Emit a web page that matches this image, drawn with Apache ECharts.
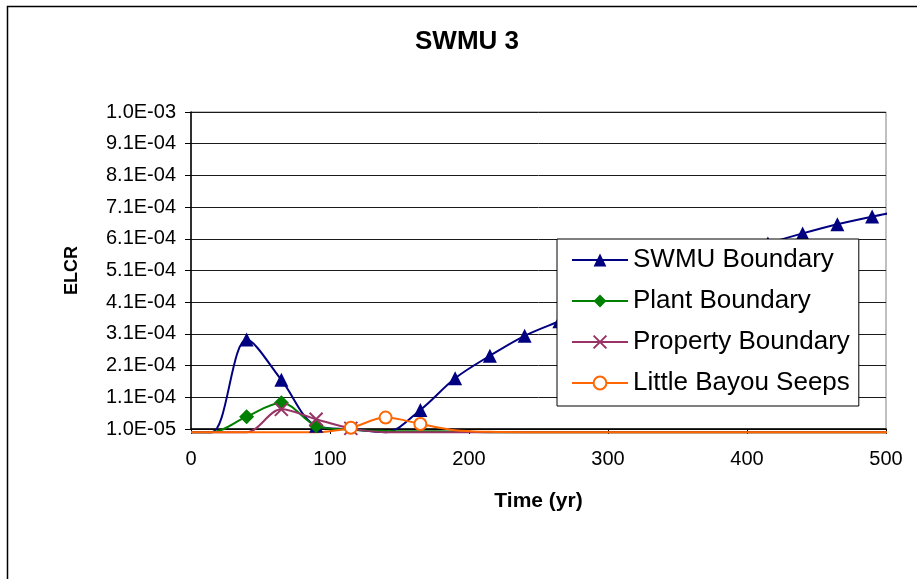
<!DOCTYPE html>
<html><head><meta charset="utf-8">
<script src="https://cdn.jsdelivr.net/npm/echarts@6/dist/echarts.min.js"></script>
<style>html,body{margin:0;padding:0;background:#fff}#c{width:917px;height:579px}</style>
</head><body><div id="c"></div>
<script>
const chartTitle = 'SWMU 3';
const xName = 'Time (yr)';
const yName = 'ELCR';
const seriesNames = ['SWMU Boundary', 'Plant Boundary', 'Property Boundary', 'Little Bayou Seeps'];
const time     = [0, 15, 40, 65, 90, 115, 140, 165, 190, 215, 240, 265, 290, 315, 340, 365, 390, 415, 440, 465, 490, 505];
const swmu     = [0, 0, 2.92e-4, 1.65e-4, 2.0e-5, 9e-6, 0, 7.0e-5, 1.70e-4, 2.41e-4, 3.04e-4, 3.50e-4, 3.95e-4, 4.40e-4, 4.82e-4, 5.20e-4, 5.60e-4, 5.95e-4, 6.27e-4, 6.56e-4, 6.80e-4, 6.93e-4];
const plant    = [0, 0, 4.9e-5, 9.3e-5, 2.0e-5, 8e-6, 4e-6, 3e-6, 2e-6, 0, 0, 0, 0, 0, 0, 0, 0, 0, 0, 0, 0, 0];
const property = [0, 0, 0, 7.2e-5, 4.1e-5, 1.2e-5, 0, 0, 0, 0, 0, 0, 0, 0, 0, 0, 0, 0, 0, 0, 0, 0];
const seeps    = [0, 0, 0, 0, 0, 1.4e-5, 4.6e-5, 2.6e-5, 6e-6, 1e-6, 0, 0, 0, 0, 0, 0, 0, 0, 0, 0, 0, 0];
const yMin = 1e-5, yMax = 1.01e-3, yStep = 1e-4;
const xMin = 0, xMax = 500, xStep = 100;

function sci(v) {
  let e = Math.floor(Math.log10(v) + 1e-9);
  let ms = (v / Math.pow(10, e)).toFixed(1);
  if (ms === '10.0') { ms = '1.0'; e++; }
  return ms + 'E' + (e < 0 ? '-' : '+') + String(Math.abs(e)).padStart(2, '0');
}
function pts(vals) {
  return time.map((t, i) => {
    const v = vals[i];
    const item = { value: [t, v] };
    if (v < yMin || t > xMax) item.symbol = 'none';
    return item;
  });
}
const FONT = 'Liberation Sans, Arial, sans-serif';
const SMOOTH = 0.33;
const chart = echarts.init(document.getElementById('c'), null, { renderer: 'canvas' });
chart.setOption({
  animation: false,
  backgroundColor: '#fff',
  title: { text: chartTitle, left: 415, top: 29, padding: 0,
    textStyle: { fontFamily: FONT, fontSize: 26, fontWeight: 'bold', color: '#000' } },
  grid: { left: 191, right: 31, top: 112, bottom: 150, show: true, borderColor: '#808080', borderWidth: 1, outerBoundsMode: 'none' },
  legend: {
    orient: 'vertical', left: 557, top: 239,
    padding: [8, 9, 10, 14], itemWidth: 56, itemHeight: 16, itemGap: 15,
    backgroundColor: '#fff', borderColor: '#000', borderWidth: 1, borderRadius: 0,
    textStyle: { fontFamily: FONT, fontSize: 26, color: '#000' },
    data: seriesNames, z: 10
  },
  xAxis: {
    type: 'value', min: xMin, max: xMax, interval: xStep,
    name: xName, nameLocation: 'middle', nameGap: 62,
    nameTextStyle: { fontFamily: FONT, fontSize: 21, fontWeight: 'bold', color: '#000' },
    axisLine: { show: true, onZero: false, lineStyle: { color: '#000', width: 1.5 } },
    axisTick: { show: true, length: 5, lineStyle: { color: '#000' } },
    axisLabel: { margin: 20, fontFamily: FONT, fontSize: 20, color: '#000' },
    splitLine: { show: false }
  },
  yAxis: {
    type: 'value', min: yMin, max: yMax, interval: yStep,
    name: yName, nameLocation: 'middle', nameGap: 110, nameRotate: 90,
    nameTextStyle: { fontFamily: FONT, fontSize: 18, fontWeight: 'bold', color: '#000' },
    axisLine: { show: true, onZero: false, lineStyle: { color: '#000', width: 1.5 } },
    axisTick: { show: true, length: 6, lineStyle: { color: '#000' } },
    axisLabel: { margin: 15, fontFamily: FONT, fontSize: 20, color: '#000', formatter: sci },
    splitLine: { show: true, lineStyle: { color: '#1a1a1a', width: 1 } }
  },
  series: [
    { name: seriesNames[0], type: 'line', data: pts(swmu), smooth: SMOOTH, clip: false,
      symbol: 'triangle', symbolSize: 14, lineStyle: { color: '#000080', width: 2 }, itemStyle: { color: '#000080' } },
    { name: seriesNames[1], type: 'line', data: pts(plant), smooth: SMOOTH, clip: false,
      symbol: 'diamond', symbolSize: 15, lineStyle: { color: '#008000', width: 2 }, itemStyle: { color: '#008000' } },
    { name: seriesNames[2], type: 'line', data: pts(property), smooth: SMOOTH, clip: false,
      symbol: 'path://M0,0L10,10M10,0L0,10', symbolSize: 13, lineStyle: { color: '#993366', width: 2 },
      itemStyle: { color: '#993366', borderColor: '#993366', borderWidth: 2 } },
    { name: seriesNames[3], type: 'line', data: pts(seeps), smooth: SMOOTH, clip: false,
      symbol: 'emptyCircle', symbolSize: 12, lineStyle: { color: '#FF6600', width: 2 },
      itemStyle: { color: '#FF6600', borderColor: '#FF6600', borderWidth: 2 } }
  ],
  graphic: [{ type: 'rect', silent: true, z: 100,
    shape: { x: 7.5, y: 6.5, width: 940, height: 600 },
    style: { fill: null, stroke: '#000', lineWidth: 1.5 } }]
});
</script></body></html>
